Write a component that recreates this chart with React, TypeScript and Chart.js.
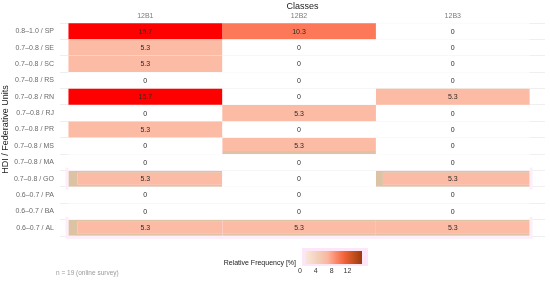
import React, { useEffect, useRef } from "react";
import { Chart, registerables } from "chart.js";

Chart.register(...registerables);

const rowLabels = [
  "0.8–1.0 / SP",
  "0.7–0.8 / SE",
  "0.7–0.8 / SC",
  "0.7–0.8 / RS",
  "0.7–0.8 / RN",
  "0.7–0.8 / RJ",
  "0.7–0.8 / PR",
  "0.7–0.8 / MS",
  "0.7–0.8 / MA",
  "0.7–0.8 / GO",
  "0.6–0.7 / PA",
  "0.6–0.7 / BA",
  "0.6–0.7 / AL",
];
const classes = ["12B1", "12B2", "12B3"];
const freq12B1 = [15.7, 5.3, 5.3, 0, 15.7, 0, 5.3, 0, 0, 5.3, 0, 0, 5.3];
const freq12B2 = [10.3, 0, 0, 0, 0, 5.3, 0, 5.3, 0, 0, 0, 0, 5.3];
const freq12B3 = [0, 0, 0, 0, 5.3, 0, 0, 0, 0, 5.3, 0, 0, 5.3];
const legendTicks = [0, 4, 8, 12];
const legendMax = 15.7;

const FONT = "'Liberation Sans', Arial, sans-serif";
const TAN = "#dcc3a3";

// rendering artifacts in reference (style only): "row-col" -> border widths
const artifacts: Record<string, any> = {
  "9-0": { left: 9, top: 2, bottom: 2, right: 0 },
  "9-2": { left: 7, top: 2, bottom: 2, right: 0 },
  "12-0": { left: 9, top: 2, bottom: 2, right: 0 },
  "12-1": { left: 0, top: 2, bottom: 2, right: 0 },
  "12-2": { left: 0, top: 2, bottom: 2, right: 0 },
  "7-1": { left: 0, top: 0, bottom: 3, right: 0 },
};

function hexToRgb(h: string) {
  const n = parseInt(h.slice(1), 16);
  return [(n >> 16) & 255, (n >> 8) & 255, n & 255];
}
const colorStops: [number, string][] = [
  [0, "#ffffff"],
  [5.3, "#fcbba4"],
  [10.3, "#fd7859"],
  [15.7, "#ff0000"],
];
function valueColor(v: number) {
  for (let i = 1; i < colorStops.length; i++) {
    const [v1, c1] = colorStops[i];
    const [v0, c0] = colorStops[i - 1];
    if (v <= v1) {
      const t = (v - v0) / (v1 - v0);
      const a = hexToRgb(c0);
      const b = hexToRgb(c1);
      const m = a.map((x, k) => Math.round(x + (b[k] - x) * t));
      return `rgb(${m[0]},${m[1]},${m[2]})`;
    }
  }
  return colorStops[colorStops.length - 1][1];
}

const seriesList = [freq12B1, freq12B2, freq12B3];

const cellLabels = {
  id: "cellLabels",
  beforeDatasetsDraw(chart: any) {
    const ctx = chart.ctx;
    ctx.save();
    ctx.fillStyle = "#fdeefa";
    chart.data.datasets.forEach((ds: any, di: number) => {
      const meta = chart.getDatasetMeta(di);
      meta.data.forEach((el: any, i: number) => {
        if (artifacts[`${i}-${di}`]) {
          const x0 = Math.min(el.x, el.base);
          const x1 = Math.max(el.x, el.base);
          ctx.fillRect(x0 - 3, el.y - el.height / 2 - 3, x1 - x0 + 6, el.height + 6);
        }
      });
    });
    ctx.restore();
  },
  afterDatasetsDraw(chart: any) {
    const ctx = chart.ctx;
    ctx.save();
    ctx.font = `7px ${FONT}`;
    ctx.fillStyle = "#2b2b2b";
    ctx.textAlign = "center";
    ctx.textBaseline = "middle";
    chart.data.datasets.forEach((ds: any, di: number) => {
      const meta = chart.getDatasetMeta(di);
      meta.data.forEach((el: any, i: number) => {
        const v = seriesList[di][i];
        const txt = v === 0 ? "0" : v.toFixed(1);
        ctx.fillText(txt, (el.x + el.base) / 2, el.y + 0.5);
      });
    });
    ctx.restore();
  },
};

const legendPlugin = {
  id: "gradLegend",
  afterDraw(chart: any) {
    const ctx = chart.ctx;
    ctx.save();
    const gx0 = 300;
    const gx1 = 362;
    const gy0 = 251;
    const gy1 = 264;
    // halo
    ctx.fillStyle = "#fde6f8";
    ctx.fillRect(gx0 + 2, gy0 - 3, gx1 - gx0 + 4, gy1 - gy0 + 5);
    const g = ctx.createLinearGradient(gx0, 0, gx1, 0);
    g.addColorStop(0, "#fdf3ee");
    g.addColorStop(0.12, "#f8e4d6");
    g.addColorStop(0.3, "#f3cdb8");
    g.addColorStop(0.45, "#fbb59e");
    g.addColorStop(0.58, "#fb8a6a");
    g.addColorStop(0.72, "#f06238");
    g.addColorStop(0.86, "#c4501e");
    g.addColorStop(1, "#9a3a0e");
    ctx.fillStyle = g;
    ctx.fillRect(gx0 + 5, gy0, gx1 - gx0 - 5, gy1 - gy0);
    ctx.font = `7px ${FONT}`;
    ctx.fillStyle = "#1a1a1a";
    ctx.textAlign = "right";
    ctx.textBaseline = "middle";
    ctx.fillText("Relative Frequency [%]", 296, 263);
    ctx.textAlign = "center";
    ctx.fillStyle = "#333";
    legendTicks.forEach((t) => {
      const x = gx0 + ((gx1 - gx0) * t) / legendMax;
      ctx.fillText(String(t), x, 271.5);
    });
    ctx.textAlign = "left";
    ctx.fillStyle = "#9a9a9a";
    ctx.font = `6.5px ${FONT}`;
    ctx.fillText("n = 19 (online survey)", 56, 273.5);
    ctx.restore();
  },
};

export default function App() {
  const ref = useRef<HTMLCanvasElement | null>(null);
  useEffect(() => {
    if (!ref.current) return;
    const datasets = seriesList.map((vals, c) => ({
      label: classes[c],
      data: rowLabels.map(() => [c, c + 1]),
      grouped: false,
      backgroundColor: (ctx: any) => valueColor(vals[ctx.dataIndex] ?? 0),
      borderColor: TAN,
      borderSkipped: false,
      borderWidth: (ctx: any) =>
        artifacts[`${ctx.dataIndex}-${c}`] || { left: 0, top: 0, bottom: 0, right: 0 },
      barPercentage: 1,
      categoryPercentage: 0.98,
    }));
    const chart = new Chart(ref.current, {
      type: "bar",
      data: { labels: rowLabels, datasets: datasets as any },
      plugins: [cellLabels, legendPlugin],
      options: {
        animation: false,
        responsive: true,
        maintainAspectRatio: false,
        indexAxis: "y",
        layout: { padding: { top: 0, bottom: 46, right: 5, left: 0 } },
        plugins: {
          legend: { display: false },
          tooltip: { enabled: false },
          title: { display: false },
        },
        scales: {
          x: {
            type: "linear",
            position: "top",
            min: -0.055,
            max: 3.1,
            afterBuildTicks: (scale: any) => {
              scale.ticks = [{ value: 0.5 }, { value: 1.5 }, { value: 2.5 }];
            },
            afterFit: (scale: any) => {
              scale.height = 23;
            },
            ticks: {
              autoSkip: false,
              maxRotation: 0,
              font: { family: FONT, size: 7 },
              color: "#7a7a7a",
              padding: 3,
              callback: (v: any) => classes[Math.floor(Number(v))] ?? "",
            },
            grid: { display: false, drawTicks: false },
            border: { display: false },
            title: {
              display: true,
              text: "Classes",
              font: { family: FONT, size: 9 },
              color: "#222",
              padding: { top: 1, bottom: 0 },
            },
          },
          y: {
            type: "category",
            afterFit: (scale: any) => {
              scale.width = 60;
            },
            ticks: {
              font: { family: FONT, size: 7 },
              color: "#6a6a6a",
              padding: 6,
            },
            grid: { color: "#ebebeb", lineWidth: 0.8, drawTicks: false },
            border: { display: false },
            title: {
              display: true,
              text: "HDI / Federative Units",
              font: { family: FONT, size: 9 },
              color: "#222",
              padding: { top: 0, bottom: 0 },
            },
          },
        },
      } as any,
    });
    return () => chart.destroy();
  }, []);
  return (
    <div style={{ position: "fixed", left: 0, top: 0, width: 550, height: 282, background: "#fff" }}>
      <canvas ref={ref} />
    </div>
  );
}
